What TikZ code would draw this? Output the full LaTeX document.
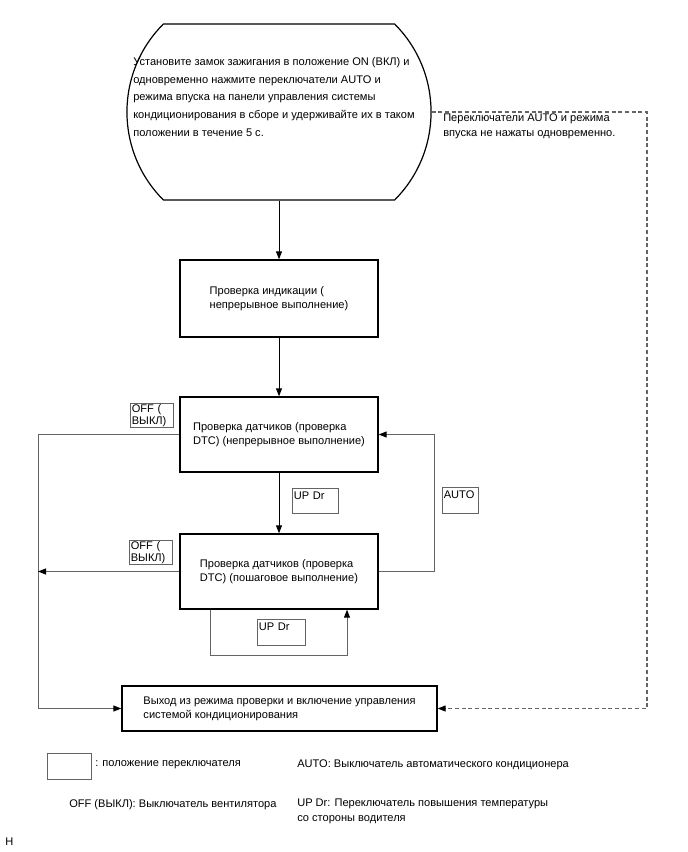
\documentclass[tikz,border=0pt]{standalone}
\usepackage{fontspec}
\setmainfont{Liberation Sans}
\usetikzlibrary{arrows.meta,shapes.misc}
\definecolor{lineGray}{RGB}{100,100,100}
\tikzset{
  every node/.style={font=\fontsize{8.3}{10.6}\selectfont},
  checkbox/.style={draw, line width=1pt, align=left, minimum width=148.5pt, minimum height=56.25pt, inner sep=0pt},
  keybox/.style={draw=lineGray, line width=0.75pt, anchor=north west, align=left, inner xsep=1pt, inner ysep=0.5pt, font=\fontsize{8.3}{9.6}\selectfont},
  link/.style={lineGray, line width=0.75pt, -{Triangle[length=6pt,width=4.5pt,black]}},
  mainlink/.style={link, draw=black},
  skiplink/.style={link, line width=0.85pt, dash pattern={on 3pt off 2pt}},
}
\begin{document}
\begin{tikzpicture}[x=0.75pt,y=0.75pt,yscale=-1,xscale=1]
\useasboundingbox (0,0) rectangle (688,852); %page of 688 x 852

%Shape: Rounded Rect [start]
\node[draw, line width=0.9pt, rounded rectangle, rounded rectangle arc length=90, minimum width=234.75pt, minimum height=132pt] (start) at (279,112) {};
% Text Node
\node[anchor=north west, inner sep=0.75pt, align=left, font=\fontsize{8.3}{13.3}\selectfont] (starttext) at (132,56) {Установите замок зажигания в положение ON (ВКЛ) и\\одновременно нажмите переключатели AUTO и\\режима впуска на панели управления системы\\кондиционирования в сборе и удерживайте их в таком\\положении в течение 5 с.};
% Text Node
\node[anchor=north west, inner sep=0.75pt, align=left] (skiptext) at (442,113) {Переключатели AUTO и режима\\впуска не нажаты одновременно.};

%Shape: Rectangle
\node[checkbox, minimum height=57.75pt] (box1) at (279,298.5) {Проверка индикации (\\непрерывное выполнение)};
%Shape: Rectangle
\node[checkbox] (box2) at (279,434.5) {Проверка датчиков (проверка\\DTC) (непрерывное выполнение)};
%Shape: Rectangle
\node[checkbox] (box3) at (279,571.5) {Проверка датчиков (проверка\\DTC) (пошаговое выполнение)};
%Shape: Rectangle
\node[checkbox, minimum width=236.25pt, minimum height=33.75pt] (exit) at (279.5,708.5) {Выход из режима проверки и включение управления\\системой кондиционирования};

%Switch boxes
\node[keybox, text width=30.25pt] (off1) at (130,403) {OFF (\\ВЫКЛ)};
\node[keybox, text width=30.25pt] (off2) at (129,540) {OFF (\\ВЫКЛ)};
\node[keybox, text width=32.5pt, text height=8pt, text depth=9.75pt] (updr1) at (292,488) {UP Dr};
\node[keybox, text width=34pt, text height=8pt, text depth=10.5pt] (updr2) at (257,619) {UP Dr};
\node[keybox, text width=25pt, text height=8pt, text depth=10.5pt] (autokey) at (442,487) {AUTO};

%Straight Lines
\draw[mainlink] (start.south) -- (box1.north);
\draw[mainlink] (box1.south) -- (box2.north);
\draw[mainlink] (box2.south) -- (box3.north);
%OFF lines
\coordinate (offcorner) at (38,434.5);
\draw[link] (box2.west) -- (offcorner) |- (exit.west);
\draw[link] (box3.west) -- (offcorner |- box3.west);
%AUTO line
\coordinate (autocorner) at (434,571.5);
\draw[link] (box3.east) -- (autocorner) |- (box2.east);
%UP Dr loop
\coordinate (loopleft) at (210,655);
\coordinate (loopright) at (347,655);
\draw[link] (loopleft |- box3.south) -- (loopleft) -- (loopright) -- (loopright |- box3.south);
%Dashed line
\coordinate (skipcorner) at (647,112);
\draw[skiplink] (start.east) -- (skipcorner) |- (exit.east);

%Legend
\node[keybox, minimum width=33pt, minimum height=19.5pt] (legendbox) at (47,753) {};
% Text Node
\node[anchor=west, inner sep=0pt] (legend1) at (95,765) {: положение переключателя};
% Text Node
\node[anchor=west, inner sep=0pt] (legend2) at (297,765) {AUTO: Выключатель автоматического кондиционера};
% Text Node
\node[anchor=west, inner sep=0pt] (legend3) at (69,805) {OFF (ВЫКЛ): Выключатель вентилятора};
% Text Node
\node[anchor=north west, inner sep=0pt, align=left] (legend4) at (297,799) {UP Dr: Переключатель повышения температуры\\со стороны водителя};
% Text Node
\node[anchor=west, inner sep=0pt] (mark) at (5,842) {H};

\end{tikzpicture}
\end{document}
